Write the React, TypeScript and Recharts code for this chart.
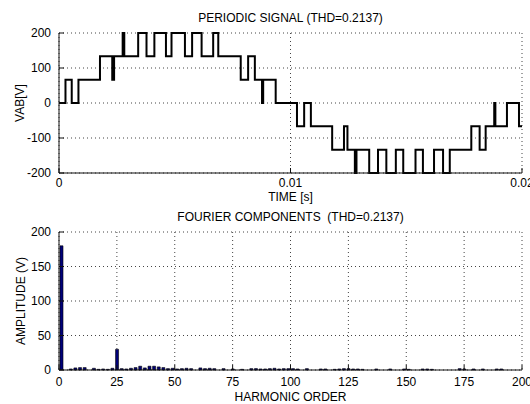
import { LineChart, Line, BarChart, Bar, XAxis, YAxis, CartesianGrid } from 'recharts';

// periodic signal: switching instants (ms) and the level held from each instant
const signalTimeMs = [
  0, 0.28, 0.55, 0.84, 1.77, 2.3, 2.38, 2.75, 2.82, 3.42, 3.78, 4.12, 4.62, 4.86,
  5.44, 5.75, 6.16, 6.66, 6.88, 7.85, 8.17, 8.46, 8.77, 8.82, 9.36,
  10.28, 10.59, 10.88, 11.8, 12.31, 12.46, 12.78, 12.85, 13.4, 13.78, 14.14, 14.55,
  14.87, 15.4, 15.72, 16.2, 16.59, 16.88, 17.81, 18.17, 18.43, 18.8, 18.85, 19.35,
  19.87, 20,
];
const signalVolts = [
  0, 66.7, 0, 66.7, 133.3, 66.7, 133.3, 200, 133.3, 200, 133.3, 200, 133.3, 200,
  133.3, 200, 133.3, 200, 133.3, 66.7, 133.3, 66.7, 0, 66.7, 0,
  -66.7, 0, -66.7, -133.3, -66.7, -133.3, -200, -133.3, -200, -133.3, -200, -133.3,
  -200, -133.3, -200, -133.3, -200, -133.3, -66.7, -133.3, -66.7, 0, -66.7, 0,
  -66.7, -66.7,
];

// fourier components
const harmonicOrder = [
  1, 5, 7, 9, 11, 15, 17, 19, 21, 23, 25, 27, 29, 31, 33, 35, 37, 39, 41, 43, 45, 47, 49,
  51, 53, 55, 57, 61, 63, 65, 67, 71, 75, 79, 83, 85, 87, 89, 91, 93, 95, 97, 99,
  101, 103, 107, 113, 115, 119, 121, 123, 125, 127, 129, 131, 137, 143, 149, 151,
  157, 159, 161, 173, 175, 179, 183, 189, 191,
];
const harmonicAmp = [
  180, 1.5, 3, 3.5, 3.5, 2.5, 1, 1.5, 1, 2.5, 30, 2, 1.5, 2.5, 3.5, 5.5, 3, 5.5, 5.5, 4.5, 3.5, 2, 2.5,
  1.5, 2, 2.5, 2, 3, 2, 2.5, 2, 2, 1.5, 1, 2, 2, 1.5, 1.5, 2, 2.5, 1.5, 2, 2,
  2, 1.5, 2, 1.5, 1.5, 1, 1.5, 2, 2, 1.5, 1.5, 1, 1.5, 1.5, 1.5, 1,
  1.5, 1.5, 1, 2, 1.5, 1.5, 1.5, 1.5, 1.5,
];

const timeTicks = [0, 0.01, 0.02];
const voltTicks = [-200, -100, 0, 100, 200];
const orderTicks = [0, 25, 50, 75, 100, 125, 150, 175, 200];
const ampTicks = [0, 50, 100, 150, 200];

const signalData = signalTimeMs.map((t, i) => ({ t: t / 1000, v: signalVolts[i] }));
const spectrumData = harmonicOrder.map((h, i) => ({ h, a: harmonicAmp[i] }));

const FONT = '"Liberation Sans", Arial, sans-serif';
const tickStyle = { fontSize: 12, fill: '#000', fontFamily: FONT };
const AX = '#111';

function Caption({ text, cy }: { text: string; cy: number }) {
  return (
    <div style={{ position: 'absolute', left: 59, width: 463, top: cy - 7, lineHeight: '14px', textAlign: 'center', whiteSpace: 'pre' }}>
      {text}
    </div>
  );
}

function SideLabel({ text, cx, cy }: { text: string; cx: number; cy: number }) {
  return (
    <div style={{ position: 'absolute', left: cx, top: cy, lineHeight: '14px', whiteSpace: 'nowrap', transform: 'translate(-50%, -50%) rotate(-90deg)' }}>
      {text}
    </div>
  );
}

export default function App() {
  return (
    <div style={{ position: 'absolute', left: 0, top: 0, width: 530, height: 404, background: '#fff', fontFamily: FONT, fontSize: 12, color: '#000', overflow: 'hidden' }}>
      <div style={{ position: 'absolute', left: 0, top: 0 }}>
        <LineChart width={530} height={200} data={signalData} margin={{ top: 33, right: 8, bottom: 7, left: 0 }}>
          <CartesianGrid stroke="#444" strokeDasharray="1 3" />
          <XAxis dataKey="t" type="number" domain={[0, 0.02]} ticks={timeTicks} interval={0} height={20}
            tickFormatter={(v: number) => String(v)} tick={tickStyle} tickSize={-5} tickMargin={10}
            stroke={AX} />
          <XAxis xAxisId="top" orientation="top" type="number" domain={[0, 0.02]} ticks={timeTicks} interval={0}
            height={0} tick={false} tickSize={-5} stroke={AX} />
          <YAxis type="number" domain={[-200, 200]} ticks={voltTicks} interval={0} width={59}
            tick={tickStyle} tickSize={-5} tickMargin={13} stroke={AX} />
          <YAxis yAxisId="right" orientation="right" type="number" domain={[-200, 200]} ticks={voltTicks} interval={0}
            width={0} tick={false} tickSize={-5} stroke={AX} />
          <Line type="stepAfter" dataKey="v" stroke="#000" strokeWidth={2} dot={false} isAnimationActive={false} />
        </LineChart>
      </div>
      <div style={{ position: 'absolute', left: 0, top: 200 }}>
        <BarChart width={530} height={204} data={spectrumData} margin={{ top: 32, right: 8, bottom: 14, left: 0 }}>
          <CartesianGrid stroke="#444" strokeDasharray="1 3" />
          <XAxis dataKey="h" type="number" domain={[0, 200]} ticks={orderTicks} interval={0} height={20}
            tick={tickStyle} tickSize={-5} tickMargin={12} stroke={AX} />
          <XAxis xAxisId="top" orientation="top" type="number" domain={[0, 200]} ticks={orderTicks} interval={0}
            height={0} tick={false} tickSize={-5} stroke={AX} />
          <YAxis type="number" domain={[0, 200]} ticks={ampTicks} interval={0} width={59}
            tick={tickStyle} tickSize={-5} tickMargin={13} stroke={AX} />
          <YAxis yAxisId="right" orientation="right" type="number" domain={[0, 200]} ticks={ampTicks} interval={0}
            width={0} tick={false} tickSize={-5} stroke={AX} />
          <Bar dataKey="a" fill="#00007a" stroke="#000" strokeWidth={0.6} barSize={3} isAnimationActive={false} />
        </BarChart>
      </div>
      <Caption text="PERIODIC SIGNAL (THD=0.2137)" cy={18} />
      <Caption text="TIME [s]" cy={197} />
      <Caption text="FOURIER COMPONENTS  (THD=0.2137)" cy={217} />
      <Caption text="HARMONIC ORDER" cy={397} />
      <SideLabel text="VAB[V]" cx={20} cy={103} />
      <SideLabel text="AMPLITUDE (V)" cx={21} cy={301} />
    </div>
  );
}
